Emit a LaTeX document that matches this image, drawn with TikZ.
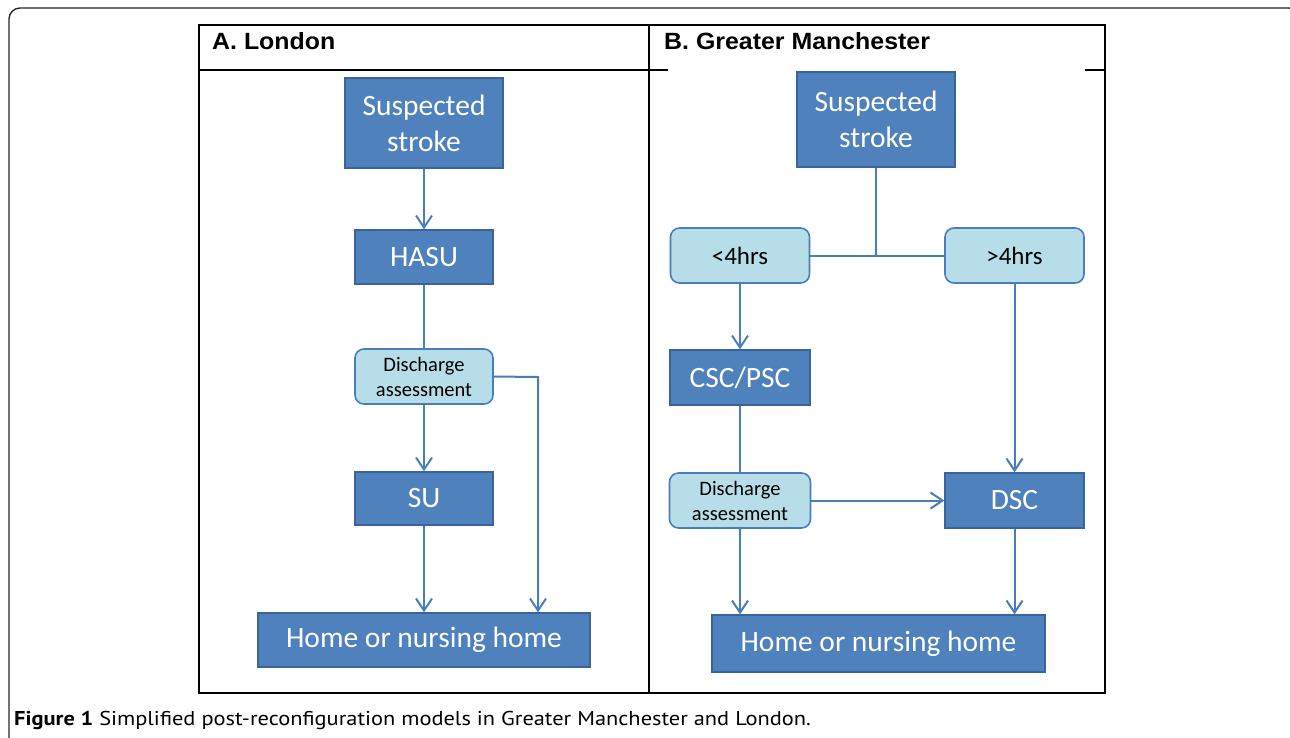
\documentclass[tikz,border=0pt]{standalone}
\usepackage{fontspec}
\setmainfont{Carlito}
\newfontfamily\headfont[FakeStretch=1.06]{Liberation Sans}
\newfontfamily\capfont[FakeStretch=1.12]{PT Sans}
\usetikzlibrary{arrows.meta}
\definecolor{darkbox}{HTML}{4F81BD}
\definecolor{darkedge}{HTML}{3A659A}
\definecolor{lightbox}{HTML}{B7DEE8}
\definecolor{lineblue}{HTML}{4A7EBB}
\tikzset{
  darknode/.style={draw=darkedge, line width=1.3pt, fill=darkbox, text=white, inner sep=0pt, align=center, font=\fontsize{29.5}{36}\selectfont},
  lightnode/.style={draw=lineblue, line width=1.6pt, fill=lightbox, text=black, rounded corners=9pt, inner sep=0pt, align=center},
  conn/.style={draw=lineblue, line width=2pt},
  arr/.style={conn, -{Straight Barb[length=12pt,width=16pt,line width=2pt]}},
  frame/.style={draw=black, line width=2pt},
}
\begin{document}
\begin{tikzpicture}[x=1pt,y=-1pt]
\useasboundingbox (0,0) rectangle (1290,737);
\begin{scope}
\clip (0,0) rectangle (1290,737);
\draw[line width=1.4pt, draw=black!85, rounded corners=11pt] (9,760) -- (9,8) -- (1300,8) -- (1300,760);
\end{scope}
% table frame
\draw[frame] (199,25) rectangle (1105,693);
\draw[frame] (649,25) -- (649,693);
\draw[frame] (199,70) -- (668,70);
\draw[frame] (1085,70) -- (1105,70);
\node[anchor=base west, font=\headfont\bfseries\fontsize{23.5}{28}\selectfont, inner sep=0pt] (hA) at (212,49) {A. London};
\node[anchor=base west, font=\headfont\bfseries\fontsize{23.5}{28}\selectfont, inner sep=0pt] (hB) at (664,49) {B. Greater Manchester};
% Left panel
\node[darknode, minimum width=158pt, minimum height=90pt] (lss) at (424,123) {Suspected\\stroke};
\node[darknode, minimum width=138pt, minimum height=54pt] (hasu) at (424,257) {HASU};
\node[lightnode, minimum width=138pt, minimum height=55pt, font=\fontsize{20.5}{25}\selectfont] (lda) at (424,376.5) {Discharge\\assessment};
\node[darknode, minimum width=138pt, minimum height=53pt] (su) at (424,498.5) {SU};
\node[darknode, minimum width=332pt, minimum height=54pt] (lhome) at (424,640) {Home or nursing home};
\coordinate (lcorner) at (538,377);
\draw[arr] (lss) -- (hasu);
\draw[conn] (hasu) -- (lda);
\draw[arr] (lda) -- (su);
\draw[arr] (su) -- (lhome);
\draw[arr] (lda.east) -- (lcorner) -- (lcorner |- lhome.north);
% Right panel
\node[darknode, minimum width=158pt, minimum height=95pt] (rss) at (876,119.5) {Suspected\\stroke};
\node[lightnode, minimum width=139pt, minimum height=55pt, font=\fontsize{25}{30}\selectfont] (lt4) at (740,255.5) {<4hrs};
\node[lightnode, minimum width=139pt, minimum height=55pt, font=\fontsize{25}{30}\selectfont] (gt4) at (1014.5,255.5) {>4hrs};
\node[darknode, minimum width=140pt, minimum height=55pt] (csc) at (740,377.5) {CSC/PSC};
\node[lightnode, minimum width=141pt, minimum height=55pt, font=\fontsize{20.5}{25}\selectfont] (rda) at (740,500.5) {Discharge\\assessment};
\node[darknode, minimum width=139pt, minimum height=55pt] (dsc) at (1014.5,500.5) {DSC};
\node[darknode, minimum width=333pt, minimum height=57pt] (rhome) at (878.5,643.5) {Home or nursing home};
\coordinate (split) at (rss.south |- lt4.east);
\draw[conn] (rss.south) -- (split);
\draw[conn] (lt4.east) -- (gt4.west);
\draw[arr] (lt4) -- (csc);
\draw[conn] (csc) -- (rda);
\draw[arr] (rda.east) -- (dsc.west);
\draw[arr] (gt4) -- (dsc);
\draw[arr] (rda.south) -- (rda.south |- rhome.north);
\draw[arr] (dsc.south) -- (dsc.south |- rhome.north);
% caption
\node[anchor=base west, inner sep=0pt, font=\capfont\fontsize{20}{24}\selectfont] (cap) at (14,725) {\textbf{Figure 1} Simplified post-reconfiguration models in Greater Manchester and London.};
\end{tikzpicture}
\end{document}
